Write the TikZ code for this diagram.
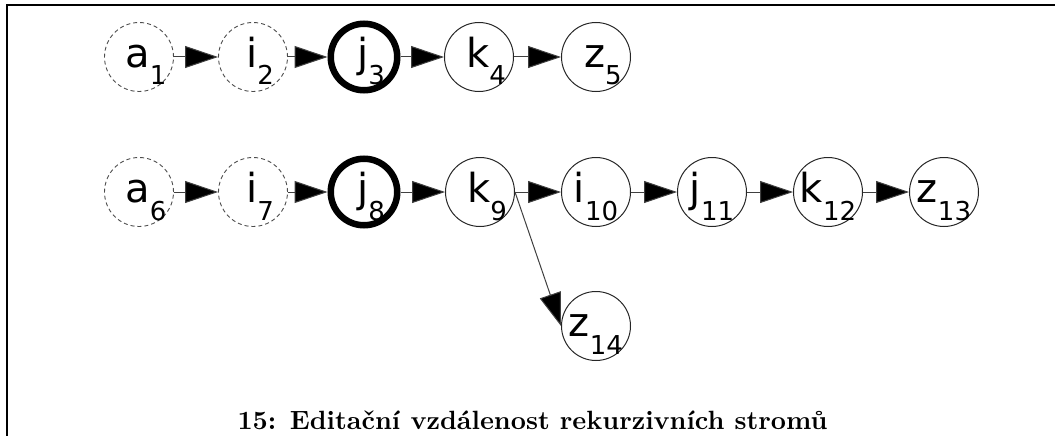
\documentclass[tikz,border=0pt]{standalone}
\usepackage{fontspec}
\newfontfamily\nodefont{DejaVu Sans}
\newfontfamily\capfont{lmroman10-bold.otf}
\usetikzlibrary{arrows.meta}

% node label: optional left pad, letter, subscript digits
\newcommand\lbl[3][0pt]{\smash{\nodefont\hspace*{#1}%
  \raisebox{-10pt}{\fontsize{40}{40}\selectfont #2}%
  \raisebox{-28pt}{\fontsize{26}{26}\selectfont #3}}}

\tikzset{
  state/.style={circle, draw=black!85, line width=1pt, minimum size=69pt, inner sep=0pt},
  hidden/.style={state, draw=black!70, line width=0.9pt, dash pattern=on 4pt off 3pt},
  focus/.style={state, draw=black, line width=6.5pt, minimum size=66.5pt},
  edge/.style={draw=black!75, line width=1pt, -{Triangle[length=33pt, width=22pt, fill=black]}},
  frame/.style={line width=2.5pt},
  caption/.style={font=\capfont\fontsize{26.4}{26.4}\selectfont, anchor=base, inner sep=0pt}
}

\begin{document}
\begin{tikzpicture}[x=1pt, y=-1pt]
  \useasboundingbox (0,0) rectangle (1055,436);
  \draw[frame] (7,436) -- (7,5) -- (1055,5);

  % first chain
  \node[hidden] (a1) at (139,57) {\lbl[14pt]{a}{1}};
  \node[hidden] (i2) at (253,57) {\lbl[14pt]{i}{2}};
  \node[focus]  (j3) at (364,57) {\lbl[14pt]{j}{3}};
  \node[state]  (k4) at (479,57) {\lbl[14pt]{k}{4}};
  \node[state]  (z5) at (596,57) {\lbl[14pt]{z}{5}};

  \draw[edge] (a1.east) -- (i2.west);
  \draw[edge] (i2.east) -- (j3.west);
  \draw[edge] (j3.east) -- (k4.west);
  \draw[edge] (k4.east) -- (z5.west);

  % second chain
  \node[hidden] (a6)  at (139,192) {\lbl[14pt]{a}{6}};
  \node[hidden] (i7)  at (253,192) {\lbl[14pt]{i}{7}};
  \node[focus]  (j8)  at (364,192) {\lbl[14pt]{j}{8}};
  \node[state]  (k9)  at (480,192) {\lbl[14pt]{k}{9}};
  \node[state]  (i10) at (596,192) {\lbl{i}{10}};
  \node[state]  (j11) at (712,192) {\lbl{j}{11}};
  \node[state]  (k12) at (828,192) {\lbl{k}{12}};
  \node[state]  (z13) at (944,192) {\lbl{z}{13}};
  \node[state]  (z14) at (596,326) {\lbl{z}{14}};

  \draw[edge] (a6.east)  -- (i7.west);
  \draw[edge] (i7.east)  -- (j8.west);
  \draw[edge] (j8.east)  -- (k9.west);
  \draw[edge] (k9.east)  -- (i10.west);
  \draw[edge] (i10.east) -- (j11.west);
  \draw[edge] (j11.east) -- (k12.west);
  \draw[edge] (k12.east) -- (z13.west);
  \draw[edge] (k9.east)  -- (z14.west);

  \node[caption] (cap) at (532.5,429) {15: Editační vzdálenost rekurzivních stromů};
\end{tikzpicture}
\end{document}
